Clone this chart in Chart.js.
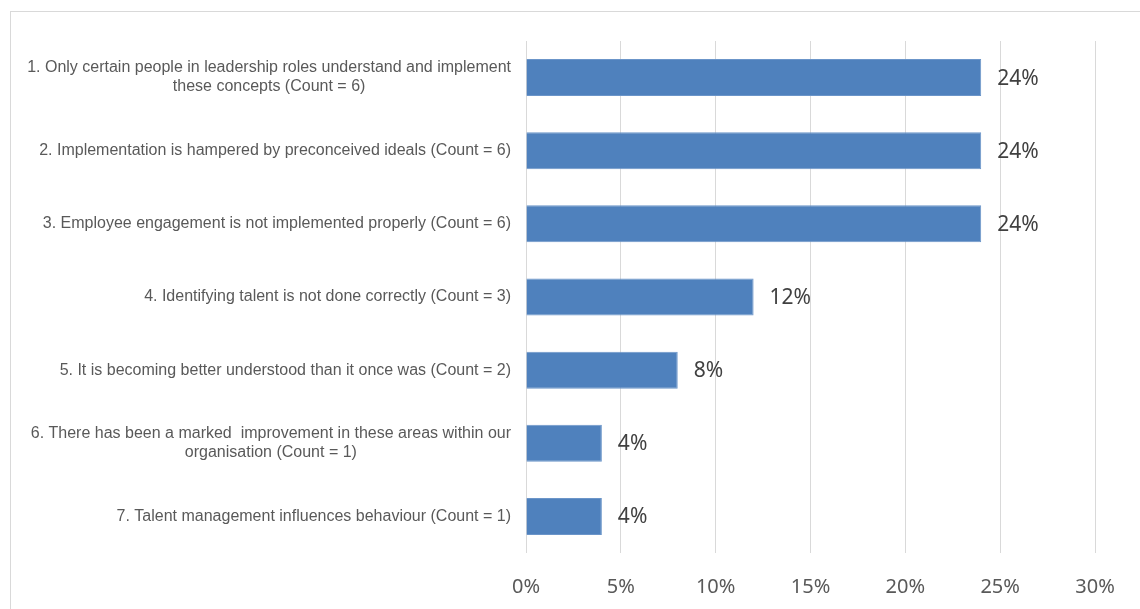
<!DOCTYPE html>
<html>
<head>
<meta charset="utf-8">
<script src="https://cdn.jsdelivr.net/npm/chart.js"></script>
<style>
  html, body { margin: 0; padding: 0; background: #fff; overflow: hidden; }
  .wrap { position: relative; width: 1140px; height: 609px; }
  .frame {
    position: absolute; left: 10px; top: 11px;
    width: 1140px; height: 610px;
    border: 1px solid #d9d9d9; box-sizing: border-box;
  }
  canvas { position: absolute; left: 0; top: 0; }
</style>
</head>
<body>
<div class="wrap">
  <div class="frame"></div>
  <canvas id="chart" width="1140" height="609"></canvas>
</div>
<script>
  const categories = [
    ['1. Only certain people in leadership roles understand and implement', 'these concepts (Count = 6)'],
    ['2. Implementation is hampered by preconceived ideals (Count = 6)'],
    ['3. Employee engagement is not implemented properly (Count = 6)'],
    ['4. Identifying talent is not done correctly (Count = 3)'],
    ['5. It is becoming better understood than it once was (Count = 2)'],
    ['6. There has been a marked  improvement in these areas within our', 'organisation (Count = 1)'],
    ['7. Talent management influences behaviour (Count = 1)']
  ];
  const shares = [0.24, 0.24, 0.24, 0.12, 0.08, 0.04, 0.04];
  const tickValues = [0, 0.05, 0.10, 0.15, 0.20, 0.25, 0.30];

  const pct = v => Math.round(v * 100) + '%';

  // category labels: longest line right-aligned, extra lines centred under it
  const categoryLabels = {
    id: 'categoryLabels',
    afterDraw(chart) {
      const ctx = chart.ctx;
      const y = chart.scales.y;
      const right = chart.chartArea.left - 15;
      const lineH = 19;
      ctx.save();
      ctx.font = '16px "Liberation Sans", Arial, sans-serif';
      ctx.fillStyle = '#595959';
      ctx.textAlign = 'center';
      ctx.textBaseline = 'middle';
      categories.forEach((lines, i) => {
        const cy = y.getPixelForValue(i);
        const w = Math.max(...lines.map(l => ctx.measureText(l).width));
        const cx = right - w / 2;
        const top = cy - (lines.length - 1) * lineH / 2;
        lines.forEach((l, j) => ctx.fillText(l, cx, top + j * lineH));
      });
      ctx.restore();
    }
  };

  const valueLabels = {
    id: 'valueLabels',
    afterDatasetsDraw(chart) {
      const ctx = chart.ctx;
      const meta = chart.getDatasetMeta(0);
      ctx.save();
      ctx.font = '21px "Noto Sans", sans-serif';
      ctx.fillStyle = '#404040';
      ctx.textAlign = 'left';
      ctx.textBaseline = 'middle';
      meta.data.forEach((bar, i) => {
        ctx.fillText(pct(shares[i]), bar.x + 16, bar.y + 1);
      });
      ctx.restore();
    }
  };

  new Chart(document.getElementById('chart'), {
    type: 'bar',
    data: {
      labels: categories,
      datasets: [{
        data: shares,
        backgroundColor: '#4f81bd',
        borderColor: '#6b95c9',
        borderWidth: 1,
        barPercentage: 0.506,
        categoryPercentage: 1
      }]
    },
    options: {
      indexAxis: 'y',
      responsive: false,
      animation: false,
      layout: { padding: { left: 526, right: 45, top: 41, bottom: 10 } },
      plugins: {
        legend: { display: false },
        tooltip: { enabled: false }
      },
      scales: {
        x: {
          min: 0,
          max: 0.3,
          afterBuildTicks: scale => { scale.ticks = tickValues.map(v => ({ value: v })); },
          afterFit: scale => { scale.height = 46; },
          ticks: {
            callback: v => pct(v),
            color: '#595959',
            font: { family: '"Noto Sans", sans-serif', size: 20 },
            padding: 22
          },
          grid: { color: '#d9d9d9', lineWidth: 1, drawTicks: false },
          border: { display: false }
        },
        y: {
          display: false
        }
      }
    },
    plugins: [categoryLabels, valueLabels]
  });
</script>
</body>
</html>
